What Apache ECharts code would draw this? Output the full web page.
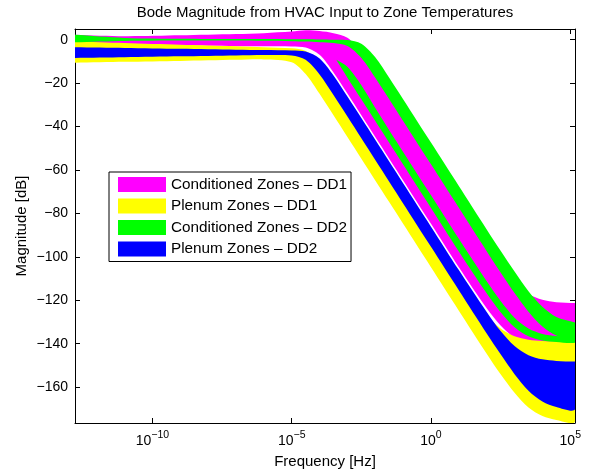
<!DOCTYPE html>
<html>
<head>
<meta charset="utf-8">
<title>Bode Magnitude</title>
<script src="https://cdn.jsdelivr.net/npm/echarts@6.0.0/dist/echarts.min.js"></script>
<style>
  html, body { margin: 0; padding: 0; background: #fff; }
  #chart { width: 589px; height: 474px; }
</style>
</head>
<body>
<div id="chart"></div>
<script>
// frequency points as log10(Hz)
const freqExp = [-12.78, -11, -9, -7, -6, -5, -4.5, -4, -3.5, -3, -2.5, -2, -1.5, -1, 0, 1, 2, 2.5, 3, 3.5, 4, 4.5, 5.17];

// envelopes in dB
const condDD1Upper = [2.3, 1.6, 2.0, 2.6, 3.0, 3.7, 4.3, 4.0, 3.0, 0.9, -5.6, -15.1, -25.0, -35.0, -55.0, -75.0, -94.6, -103.8, -111.7, -117.1, -119.8, -120.9, -121.3];
const condDD1Lower = [-2.5, -2.5, -2.7, -3.0, -3.0, -3.1, -3.6, -7.0, -15.1, -24.8, -34.8, -44.8, -54.8, -64.8, -84.8, -104.8, -123.7, -131.6, -137.3, -140.2, -141.4, -141.8, -142.0];

const plenDD1Upper = [-0.8, -1.5, -2.3, -3.0, -3.5, -4.0, -5.2, -10.1, -19.0, -28.9, -38.9, -48.9, -58.9, -68.9, -88.9, -108.9, -126.5, -133.0, -136.6, -138.2, -138.7, -138.9, -139.0];
const plenDD1Lower = [-10.6, -10.2, -9.8, -9.3, -9.1, -10.4, -15.8, -24.9, -34.8, -44.8, -54.8, -64.8, -74.8, -84.8, -104.8, -124.8, -144.6, -154.1, -162.6, -169.4, -173.3, -175.1, -175.8];

const condDD2Upper = [2.2, 0.8, 0.4, 0.3, 0.3, 0.2, 0.2, 0.1, 0.0, -0.2, -1.9, -8.1, -17.5, -27.4, -47.4, -67.4, -87.4, -97.2, -106.8, -115.8, -123.0, -127.7, -130.2];
const condDD2Lower = [-1.2, -0.6, -0.4, -0.4, -0.5, -0.7, -0.9, -1.2, -1.6, -2.9, -8.4, -17.5, -27.4, -37.4, -57.4, -77.4, -97.4, -107.2, -116.7, -125.3, -132.1, -136.2, -138.3];

// thin second green strip inside the magenta band
const stripExp = [-3.4, -3, -2.5, -2, -1.5, -1, 0, 1, 2, 2.5, 3, 3.5, 4, 4.5, 5.17];
const stripUpper = [-9.3, -12.5, -21.0, -31.5, -41.7, -51.7, -71.7, -91.7, -111.2, -120.3, -128.0, -133.0, -135.5, -136.5, -136.9];
const stripLower = [-9.3, -17.5, -27.5, -37.5, -47.5, -57.5, -77.5, -97.5, -116.8, -125.5, -132.4, -136.6, -138.5, -139.2, -139.5];

const plenDD2Upper = [-3.5, -3.8, -4.2, -4.6, -4.8, -5.0, -5.5, -8.7, -16.5, -26.2, -36.1, -46.1, -56.1, -66.1, -86.1, -106.1, -125.4, -134.2, -141.1, -145.3, -147.2, -147.9, -148.2];
const plenDD2Lower = [-8.4, -8.1, -7.7, -7.3, -7.1, -7.3, -9.3, -16.0, -25.5, -35.4, -45.4, -55.4, -65.4, -75.4, -95.4, -115.4, -135.3, -144.9, -154.0, -161.6, -166.6, -169.1, -170.2];

const xTicks = [-10, -5, 0, 5];
const yTicks = [-160, -140, -120, -100, -80, -60, -40, -20, 0];

const FONT = '"Liberation Sans", Helvetica, Arial, sans-serif';
const minus = v => (v < 0 ? '\u2212' + Math.abs(v) : String(v));

// one filled polygon per band, upper edge then lower edge back
function renderBand(params, api) {
  if (params.dataIndexInside !== 0) return null;
  const n = params.dataInsideLength;
  const top = [], bottom = [];
  for (let i = 0; i < n; i++) {
    top.push(api.coord([api.value(0, i), api.value(1, i)]));
    bottom.push(api.coord([api.value(0, i), api.value(2, i)]));
  }
  // end points repeated so the smoothing keeps the ends square
  const pts = [top[0]].concat(top, [top[n - 1]], bottom.slice().reverse(), [bottom[0]]);
  return {
    type: 'polygon',
    shape: { points: pts, smooth: 0.3 },
    style: { fill: api.visual('color') },
    silent: true
  };
}

function band(name, color, xs, upper, lower) {
  return {
    type: 'custom',
    name: name,
    clip: true,
    silent: true,
    itemStyle: { color: color },
    renderItem: renderBand,
    encode: { x: 0, y: [1, 2] },
    data: xs.map((x, i) => [x, upper[i], lower[i]])
  };
}

const legendNames = ['Conditioned Zones \u2013 DD1', 'Plenum Zones \u2013 DD1', 'Conditioned Zones \u2013 DD2', 'Plenum Zones \u2013 DD2'];

const axisLine = { show: true, onZero: false, lineStyle: { color: '#000', width: 1 } };

let chart = echarts.init(document.getElementById('chart'));
chart.setOption({
  animation: false,
  backgroundColor: '#fff',
  title: {
    text: 'Bode Magnitude from HVAC Input to Zone Temperatures',
    left: 325,
    top: 5,
    textAlign: 'center',
    padding: 0,
    textStyle: { fontSize: 15, fontWeight: 'normal', color: '#000', fontFamily: FONT }
  },
  grid: { left: 75, right: 14, top: 29, bottom: 51 },
  legend: {
    data: legendNames,
    orient: 'vertical',
    left: 109,
    top: 172,
    padding: [5, 4, 5, 9],
    itemWidth: 48,
    itemHeight: 15,
    itemGap: 6.5,
    icon: 'rect',
    borderColor: '#000',
    borderWidth: 1,
    backgroundColor: '#fff',
    itemStyle: { borderWidth: 0 },
    textStyle: { fontSize: 15.3, color: '#000', fontFamily: FONT }
  },
  xAxis: [
    {
      type: 'value',
      min: -12.78,
      max: 5.17,
      name: 'Frequency [Hz]',
      nameLocation: 'middle',
      nameGap: 31,
      nameMoveOverlap: false,
      nameTextStyle: { fontSize: 15, color: '#000', fontFamily: FONT },
      axisLine: axisLine,
      axisTick: { show: true, inside: true, length: 5, customValues: xTicks, lineStyle: { color: '#000' } },
      axisLabel: {
        customValues: xTicks,
        margin: 7,
        formatter: v => '{b|10}{e|' + minus(v) + '}',
        rich: {
          b: { fontSize: 14, color: '#000', fontFamily: FONT },
          e: { fontSize: 10.5, color: '#000', fontFamily: FONT, padding: [0, 0, 12, 0] }
        }
      },
      splitLine: { show: false }
    },
    {
      type: 'value',
      position: 'top',
      min: -12.78,
      max: 5.17,
      axisLine: axisLine,
      axisTick: { show: true, inside: true, length: 5, customValues: xTicks, lineStyle: { color: '#000' } },
      axisLabel: { show: false },
      splitLine: { show: false }
    }
  ],
  yAxis: [
    {
      type: 'value',
      min: -176.5,
      max: 4.9,
      name: 'Magnitude [dB]',
      nameLocation: 'middle',
      nameGap: 46,
      nameMoveOverlap: false,
      nameTextStyle: { fontSize: 15, color: '#000', fontFamily: FONT },
      axisLine: axisLine,
      axisTick: { show: true, inside: true, length: 5, customValues: yTicks, lineStyle: { color: '#000' } },
      axisLabel: { customValues: yTicks, margin: 7, fontSize: 14, color: '#000', fontFamily: FONT, formatter: minus },
      splitLine: { show: false }
    },
    {
      type: 'value',
      position: 'right',
      min: -176.5,
      max: 4.9,
      axisLine: axisLine,
      axisTick: { show: true, inside: true, length: 5, customValues: yTicks, lineStyle: { color: '#000' } },
      axisLabel: { show: false },
      splitLine: { show: false }
    }
  ],
  series: [
    band(legendNames[0], '#ff00ff', freqExp, condDD1Upper, condDD1Lower),
    band(legendNames[1], '#ffff00', freqExp, plenDD1Upper, plenDD1Lower),
    band(legendNames[2], '#00ff00', freqExp, condDD2Upper, condDD2Lower),
    band(legendNames[2], '#00ff00', stripExp, stripUpper, stripLower),
    band(legendNames[3], '#0000ff', freqExp, plenDD2Upper, plenDD2Lower)
  ]
});
</script>
</body>
</html>
